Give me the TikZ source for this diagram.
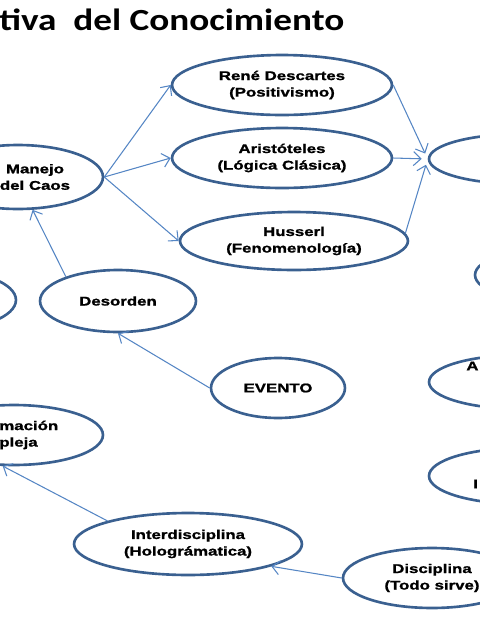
\documentclass[tikz,border=0pt]{standalone}
\usepackage{fontspec}
\usetikzlibrary{arrows.meta, shapes.geometric}
\newfontfamily\lblfont{Liberation Sans}[FakeStretch=1.33, BoldFeatures={FakeBold=1.2}]
\newfontfamily\ttlfont{Carlito}[FakeStretch=1.21]
\definecolor{cedge}{HTML}{3A6090}
\definecolor{carrow}{HTML}{5586C4}
\tikzset{
  bubble/.style 2 args={ellipse, draw=cedge, fill=white, line width=1.5pt,
    minimum width=#1*0.04cm, minimum height=#2*0.04cm, inner sep=0pt},
  txt/.style={font=\lblfont\bfseries\fontsize{7.2}{9.4}\selectfont, align=center, inner sep=0pt},
  link/.style={-{Straight Barb[length=1.5mm, width=2.8mm]}, draw=carrow, line width=0.6pt},
  title/.style={font=\ttlfont\bfseries\fontsize{17.5}{20}\selectfont, anchor=base west, inner sep=0pt},
}

\begin{document}
\begin{tikzpicture}[x=0.02cm, y=-0.02cm]
  \useasboundingbox (0,0) rectangle (480,620);
  \clip (0,0) rectangle (480,620);
  % title, cut at the left edge
  \node[title] (ttl) at (-1,30) {tiva\ \ del Conocimiento};
  % three schools
  \node[bubble={110}{30}, txt] (ren) at (282,85) {René Descartes\\(Positivismo)};
  \node[bubble={110}{30}, txt] (ari) at (282,158) {Aristóteles\\(Lógica Clásica)};
  \node[bubble={114}{29}, txt] (hus) at (294,241) {Husserl\\(Fenomenología)};
  % left column
  \node[bubble={85}{32}] (man) at (18,177) {};
  \node[txt] (mantx) at (35,177) {Manejo\\del Caos};
  \node[bubble={76}{30}] (lft) at (-60,300) {};
  \node[bubble={78}{31}, txt] (des) at (118,301) {Desorden};
  \node[bubble={67}{30}, txt] (evt) at (278,388) {EVENTO};
  \node[bubble={89}{30}] (frm) at (14,435) {};
  \node[txt, align=left, anchor=west] (frmtx) at (-1,435) {mación\\pleja};
  \node[bubble={114}{31}, txt] (int) at (188,544) {Interdisciplina\\(Holográmatica)};
  \node[bubble={89}{30}, txt] (dis) at (432,578) {Disciplina\\(Todo sirve)};
  % right column, cut at the right edge
  \node[bubble={92}{25}] (rgt) at (521,159) {};
  \node[bubble={85}{28}] (top) at (560,275) {};
  \node[bubble={92}{27}] (ara) at (521,382) {};
  \node[txt, anchor=west] (aratx) at (466,366) {A};
  \node[bubble={92}{28}] (ari2) at (521,476) {};
  \node[txt, anchor=west] (ari2tx) at (473,484) {I};
  % links
  \draw[link] (man.east) -- (ren.west);
  \draw[link] (man.east) -- (ari.west);
  \draw[link] (man.east) -- (hus.west);
  \draw[link, shorten >=1.2mm] (ren.east) -- (rgt.west);
  \draw[link, shorten >=1.2mm] (ari.east) -- (rgt.west);
  \draw[link, shorten >=1.2mm] (hus.4) -- (rgt.west);
  \draw[link] (des.155) -- (man.-66);
  \draw[link] (evt.west) -- (des.south);
  \draw[link] (int.164) -- (frm.250);
  \draw[link] (dis.west) -- (int.-15);
\end{tikzpicture}
\end{document}
